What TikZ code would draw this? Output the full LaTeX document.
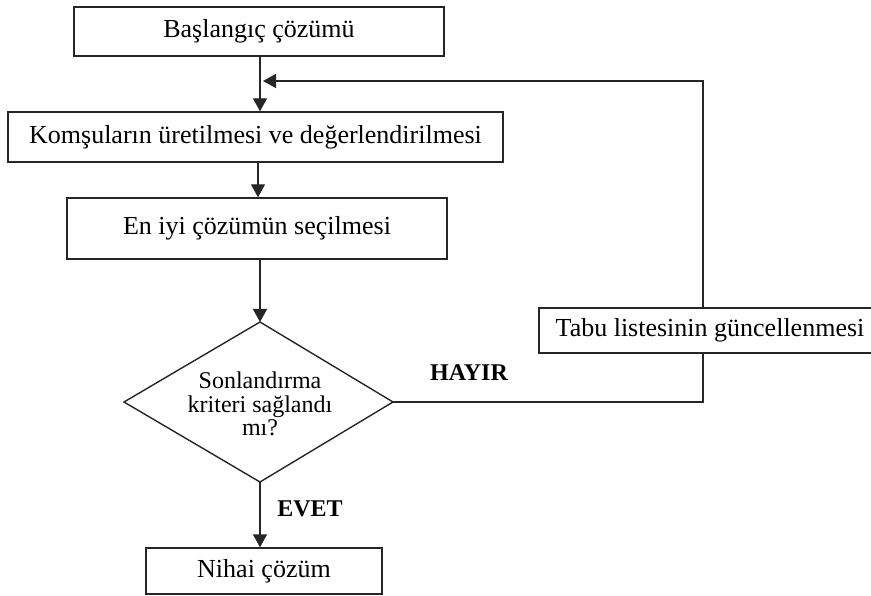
\documentclass[tikz,border=0pt]{standalone}
\usepackage{fontspec}
\setmainfont{Liberation Serif}
\usetikzlibrary{arrows.meta}
\tikzset{
  kutu/.style={draw=black!85, line width=1.4pt, inner sep=0pt, font=\fontsize{26}{30}\selectfont},
  ok/.style={line width=1.4pt, draw=black!85, -{Triangle[width=14pt,length=13pt]}},
  cizgi/.style={line width=1.4pt, draw=black!85},
  etiket/.style={font=\fontsize{24}{28}\selectfont\bfseries}
}
\begin{document}
\begin{tikzpicture}[x=1pt, y=-1pt]
  \useasboundingbox (0,0) rectangle (871,596);
  % Kutular
  \node[kutu, minimum width=370pt, minimum height=49pt] (bas) at (259,31.5) {Başlangıç çözümü};
  \node[kutu, minimum width=495pt, minimum height=50pt] (komsu) at (255.5,137) {Komşuların üretilmesi ve değerlendirilmesi};
  \node[kutu, minimum width=380pt, minimum height=61pt] (eniyi) at (257,228.5) {En iyi çözümün seçilmesi};
  \node[kutu, minimum width=342pt, minimum height=45pt] (tabu) at (710,330.5) {Tabu listesinin güncellenmesi};
  \node[kutu, minimum width=236pt, minimum height=46pt] (nihai) at (264,571) {\raisebox{5pt}{Nihai çözüm}};
  % Karar
  \coordinate (dt) at (260,322);
  \coordinate (dr) at (393,402);
  \coordinate (db) at (260,482);
  \coordinate (dl) at (124,402);
  \draw[cizgi, line join=miter] (dt) -- (dr) -- (db) -- (dl) -- cycle;
  \node[align=center, inner sep=0pt, font=\fontsize{24}{23.5}\selectfont] (karar) at (260,404) {Sonlandırma\\kriteri sağlandı\\mı?};
  % Oklar
  \coordinate (a1) at (260,0);
  \draw[ok] (a1 |- bas.south) -- (a1 |- komsu.north);
  \draw[ok] (258,0 |- komsu.south) -- (258,0 |- eniyi.north);
  \draw[ok] (a1 |- eniyi.south) -- (dt);
  \draw[ok] (db) -- (a1 |- nihai.north);
  % Geri besleme
  \coordinate (k1) at (703,402);
  \coordinate (k2) at (703,81);
  \coordinate (k3) at (263,81);
  \draw[cizgi] (dr) -- (k1) -- (k1 |- tabu.south);
  \draw[ok] (k1 |- tabu.north) -- (k2) -- (k3);
  % Etiketler
  \node[etiket] (hayir) at (469,373) {HAYIR};
  \node[etiket] (evet) at (310,509) {EVET};
\end{tikzpicture}
\end{document}
